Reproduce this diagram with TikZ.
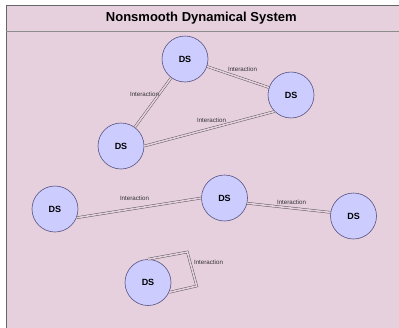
\documentclass[tikz,border=0pt]{standalone}
\usepackage{fontspec}
\setmainfont{Liberation Sans}
\definecolor{pinkbg}{HTML}{E6D0DE}
\definecolor{dsfill}{HTML}{CCCCFF}
\definecolor{dsline}{HTML}{56517E}
\definecolor{framec}{HTML}{666666}
\definecolor{linkc}{HTML}{555555}
\begin{document}
\begin{tikzpicture}[x=1pt,y=-1pt,
  ds/.style={circle,draw=dsline,fill=dsfill,line width=0.6pt,minimum size=46pt,inner sep=0pt,font=\fontsize{9}{10}\selectfont\bfseries},
  lnk/.style={draw=linkc,line width=0.45pt,double=pinkbg,double distance=1.6pt},
  lbl/.style={font=\fontsize{6.2}{7}\selectfont,text=black!80,inner sep=0pt}]
\useasboundingbox (0,0) rectangle (399,327);
\fill[white] (0,0) rectangle (399,327);
\fill[pinkbg] (6,5) rectangle (400,328);
\draw[framec,line width=0.8pt] (400,5) -- (6,5) -- (6,328);
\draw[black!45,line width=1pt] (6,31) -- (400,31);
\node[font=\fontsize{13}{15}\selectfont\bfseries,inner sep=0pt] (title) at (201.3,18.5) {Nonsmooth Dynamical System};
% triangle
\node[ds] (a) at (185,59) {DS};
\node[ds] (b) at (291,95) {DS};
\node[ds] (c) at (121,146) {DS};
\draw[lnk] (a) -- (b);
\draw[lnk] (a) -- (c);
\draw[lnk] (c.0) -- (b.225);
\node[lbl] (la) at (242.5,69) {Interaction};
\node[lbl] (lb) at (144.5,94) {Interaction};
\node[lbl] (lc) at (211.5,120) {Interaction};
% chain
\node[ds] (d) at (55,209) {DS};
\node[ds] (e) at (224.5,198) {DS};
\node[ds] (f) at (353.5,216) {DS};
\draw[lnk] (d.-22) -- (e.180);
\draw[lnk] (e.-13) -- (f.171);
\node[lbl] (ld) at (134.5,198) {Interaction};
\node[lbl] (le) at (291.5,202.5) {Interaction};
% self loop
\node[ds] (g) at (148,282.5) {DS};
\coordinate (g1) at (187.3,252);
\coordinate (g2) at (196.7,286);
\draw[lnk] (g.90) -- (g1) -- (g2) -- (g.-25);
\node[lbl] (lg) at (208.5,262) {Interaction};
\end{tikzpicture}
\end{document}
